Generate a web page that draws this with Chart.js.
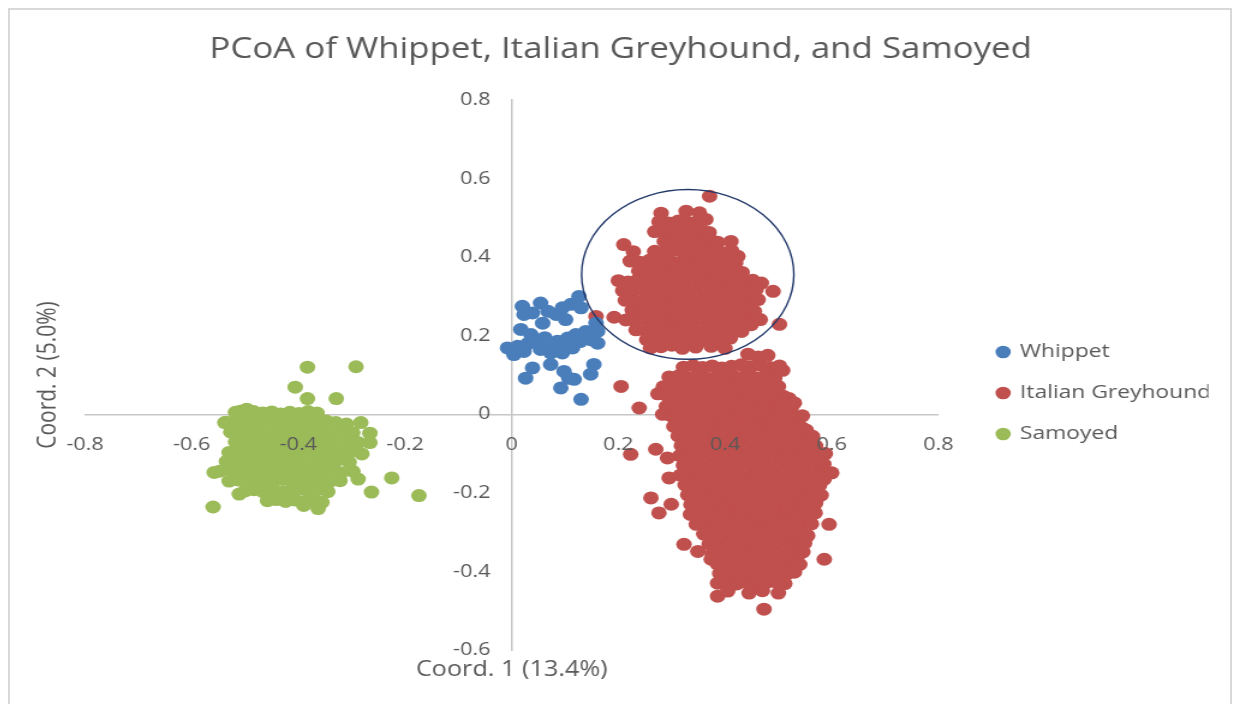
<!DOCTYPE html>
<html>
<head>
<meta charset="utf-8">
<script src="https://cdn.jsdelivr.net/npm/chart.js@4.4.1/dist/chart.umd.min.js"></script>
<style>
  html, body { margin:0; padding:0; background:#fff; overflow:hidden; }
  #frame { position:absolute; left:8px; top:8px; width:1220px; height:700px; border:2px solid #d9d9d9; overflow:hidden; }
  /* the source figure is stretched sideways, so the whole chart is too */
  #stretch { width:1016.67px; height:700px; transform:scaleX(1.2); transform-origin:0 0; }
</style>
</head>
<body>
<div id="frame"><div id="stretch"><canvas id="pcoa"></canvas></div></div>
<script>
// PCoA scatter: Whippet / Italian Greyhound / Samoyed

const TITLE = 'PCoA of Whippet, Italian Greyhound, and Samoyed';
const xTitle = 'Coord. 1 (13.4%)';
const yTitle = 'Coord. 2 (5.0%)';
const xRange = [-0.8, 0.8];
const yRange = [-0.6, 0.8];
const tickStep = 0.2;
const yLabelGap = 0.04;   // y tick labels sit a little left of the x = 0 axis line
// hand-drawn ellipse around the upper greyhound group: [cx, cy, rx, ry]
const ringShape = [0.33, 0.356, 0.199, 0.216];

const whippetPts = [
  [0.020,0.275],[0.054,0.283],[0.039,0.258],[0.023,0.254],[0.095,0.271],[0.111,0.280],[0.126,0.300],[0.130,0.271],
  [0.083,0.254],[0.101,0.241],[0.058,0.232],[0.017,0.216],[0.036,0.203],[-0.008,0.169],[0.011,0.173],[0.004,0.152],
  [0.023,0.160],[0.054,0.165],[0.070,0.173],[0.086,0.186],[0.105,0.194],[0.120,0.203],[0.139,0.211],[0.161,0.211],
  [0.161,0.181],[0.148,0.190],[0.095,0.156],[0.073,0.156],[0.114,0.169],[0.073,0.127],[0.039,0.118],[0.026,0.092],
  [0.098,0.109],[0.107,0.092],[0.117,0.089],[0.154,0.127],[0.148,0.102],[0.092,0.067],[0.130,0.038],[0.158,0.232],
  [0.045,0.185],[0.128,0.185],[0.068,0.262],[0.030,0.180],[0.062,0.195],[0.092,0.172],[0.135,0.196]
];

const greyhoundPts = [
  // upper group, inside the ring
  [0.371,0.555],
  [0.280,0.512],[0.327,0.517],[0.352,0.513],
  [0.276,0.490],[0.294,0.487],[0.312,0.492],[0.330,0.488],[0.348,0.491],[0.364,0.496],
  [0.268,0.465],[0.286,0.468],[0.304,0.463],[0.322,0.467],[0.340,0.462],[0.358,0.466],[0.370,0.463],
  [0.210,0.432],[0.286,0.440],[0.304,0.443],[0.322,0.438],[0.340,0.442],[0.358,0.437],[0.376,0.441],[0.386,0.438],[0.411,0.440],
  [0.228,0.414],[0.268,0.415],[0.286,0.412],[0.304,0.417],[0.322,0.413],[0.340,0.416],[0.358,0.411],[0.376,0.415],[0.394,0.412],[0.412,0.417],[0.424,0.402],
  [0.222,0.390],[0.240,0.387],[0.258,0.392],[0.276,0.388],[0.294,0.391],[0.312,0.386],[0.330,0.390],[0.348,0.387],[0.366,0.392],[0.384,0.388],[0.402,0.391],[0.420,0.386],
  [0.238,0.365],[0.256,0.362],[0.274,0.367],[0.292,0.363],[0.310,0.366],[0.328,0.361],[0.346,0.365],[0.364,0.362],[0.382,0.367],[0.400,0.363],[0.418,0.366],[0.432,0.361],
  [0.200,0.340],[0.218,0.337],[0.236,0.342],[0.254,0.338],[0.272,0.341],[0.290,0.336],[0.308,0.340],[0.326,0.337],[0.344,0.342],[0.362,0.338],[0.380,0.341],[0.398,0.336],[0.416,0.340],[0.434,0.337],[0.452,0.341],[0.468,0.334],
  [0.208,0.315],[0.226,0.312],[0.244,0.317],[0.262,0.313],[0.280,0.316],[0.298,0.311],[0.316,0.315],[0.334,0.312],[0.352,0.317],[0.370,0.313],[0.388,0.316],[0.406,0.311],[0.424,0.315],[0.442,0.312],[0.458,0.317],[0.490,0.313],
  [0.213,0.290],[0.231,0.287],[0.249,0.292],[0.267,0.288],[0.285,0.291],[0.303,0.286],[0.321,0.290],[0.339,0.287],[0.357,0.292],[0.375,0.288],[0.393,0.291],[0.411,0.286],[0.429,0.290],[0.447,0.287],[0.462,0.292],
  [0.226,0.265],[0.244,0.262],[0.262,0.267],[0.280,0.263],[0.298,0.266],[0.316,0.261],[0.334,0.265],[0.352,0.262],[0.370,0.267],[0.388,0.263],[0.406,0.266],[0.424,0.261],[0.442,0.265],[0.455,0.262],
  [0.158,0.249],[0.192,0.247],
  [0.214,0.240],[0.232,0.237],[0.250,0.242],[0.268,0.238],[0.286,0.241],[0.304,0.236],[0.322,0.240],[0.340,0.237],[0.358,0.242],[0.376,0.238],[0.394,0.241],[0.412,0.236],[0.430,0.240],[0.448,0.237],[0.466,0.241],[0.502,0.229],
  [0.233,0.215],[0.251,0.212],[0.269,0.217],[0.287,0.213],[0.305,0.216],[0.323,0.211],[0.341,0.215],[0.359,0.212],[0.377,0.217],[0.395,0.213],[0.413,0.216],[0.431,0.211],[0.449,0.228],
  [0.253,0.190],[0.271,0.193],[0.289,0.188],[0.307,0.192],[0.325,0.187],[0.343,0.191],[0.361,0.188],[0.379,0.193],[0.397,0.189],[0.410,0.194],
  [0.260,0.169],[0.280,0.172],[0.300,0.176],[0.320,0.168],[0.345,0.171],[0.374,0.173],[0.400,0.168],
  // lower group
  [0.443,0.153],[0.462,0.146],[0.480,0.150],
  [0.322,0.120],[0.340,0.124],[0.358,0.119],[0.376,0.123],[0.394,0.118],[0.412,0.122],[0.430,0.126],[0.448,0.121],[0.466,0.125],[0.484,0.119],[0.502,0.123],
  [0.295,0.095],[0.313,0.098],[0.331,0.093],[0.349,0.097],[0.367,0.092],[0.385,0.096],[0.403,0.099],[0.421,0.094],[0.439,0.098],[0.457,0.093],[0.475,0.097],[0.493,0.092],[0.508,0.112],
  [0.205,0.071],[0.284,0.070],[0.302,0.073],[0.320,0.068],[0.338,0.072],[0.356,0.067],[0.374,0.071],[0.392,0.074],[0.410,0.069],[0.428,0.073],[0.446,0.068],[0.464,0.072],[0.482,0.067],[0.500,0.071],
  [0.274,0.052],[0.293,0.045],[0.311,0.048],[0.329,0.043],[0.347,0.047],[0.365,0.042],[0.383,0.046],[0.401,0.049],[0.419,0.044],[0.437,0.048],[0.455,0.043],[0.473,0.047],[0.491,0.042],[0.509,0.046],[0.520,0.040],
  [0.239,0.016],[0.290,0.020],[0.308,0.023],[0.326,0.018],[0.344,0.022],[0.362,0.017],[0.380,0.021],[0.398,0.024],[0.416,0.019],[0.434,0.023],[0.452,0.018],[0.470,0.022],[0.488,0.017],[0.506,0.021],[0.524,0.016],[0.530,0.029],
  [0.283,0.000],[0.300,-0.005],[0.318,-0.002],[0.336,-0.007],[0.354,-0.003],[0.372,-0.008],[0.390,-0.004],[0.408,-0.001],[0.426,-0.006],[0.444,-0.002],[0.462,-0.007],[0.480,-0.003],[0.498,-0.008],[0.516,-0.004],[0.534,-0.009],[0.545,-0.004],
  [0.304,-0.031],[0.310,-0.030],[0.328,-0.027],[0.346,-0.032],[0.364,-0.028],[0.382,-0.033],[0.400,-0.029],[0.418,-0.026],[0.436,-0.031],[0.454,-0.027],[0.472,-0.032],[0.490,-0.028],[0.508,-0.033],[0.526,-0.029],[0.544,-0.034],[0.552,-0.040],
  [0.312,-0.055],[0.330,-0.052],[0.348,-0.057],[0.366,-0.053],[0.384,-0.058],[0.402,-0.054],[0.420,-0.051],[0.438,-0.056],[0.456,-0.052],[0.474,-0.057],[0.492,-0.053],[0.510,-0.058],[0.528,-0.054],[0.546,-0.051],[0.564,-0.056],
  [0.318,-0.080],[0.336,-0.077],[0.354,-0.082],[0.372,-0.078],[0.390,-0.083],[0.408,-0.079],[0.426,-0.076],[0.444,-0.081],[0.462,-0.077],[0.480,-0.082],[0.498,-0.078],[0.516,-0.083],[0.534,-0.079],[0.552,-0.076],[0.570,-0.081],
  [0.223,-0.102],[0.270,-0.089],[0.292,-0.111],
  [0.315,-0.105],[0.333,-0.102],[0.351,-0.107],[0.369,-0.103],[0.387,-0.108],[0.405,-0.104],[0.423,-0.101],[0.441,-0.106],[0.459,-0.102],[0.477,-0.107],[0.495,-0.103],[0.513,-0.108],[0.531,-0.104],[0.549,-0.101],[0.567,-0.106],[0.588,-0.100],
  [0.322,-0.130],[0.340,-0.127],[0.358,-0.132],[0.376,-0.128],[0.394,-0.133],[0.412,-0.129],[0.430,-0.126],[0.448,-0.131],[0.466,-0.127],[0.484,-0.132],[0.502,-0.128],[0.520,-0.133],[0.538,-0.129],[0.556,-0.126],[0.574,-0.131],[0.585,-0.127],
  [0.295,-0.162],
  [0.316,-0.155],[0.334,-0.152],[0.352,-0.157],[0.370,-0.153],[0.388,-0.158],[0.406,-0.154],[0.424,-0.151],[0.442,-0.156],[0.460,-0.152],[0.478,-0.157],[0.496,-0.153],[0.514,-0.158],[0.532,-0.154],[0.550,-0.151],[0.568,-0.156],[0.586,-0.152],[0.600,-0.149],
  [0.325,-0.180],[0.343,-0.177],[0.361,-0.182],[0.379,-0.178],[0.397,-0.183],[0.415,-0.179],[0.433,-0.176],[0.451,-0.181],[0.469,-0.177],[0.487,-0.182],[0.505,-0.178],[0.523,-0.183],[0.541,-0.179],[0.559,-0.176],[0.577,-0.181],[0.586,-0.165],
  [0.261,-0.213],
  [0.330,-0.205],[0.348,-0.202],[0.366,-0.207],[0.384,-0.203],[0.402,-0.208],[0.420,-0.204],[0.438,-0.201],[0.456,-0.206],[0.474,-0.202],[0.492,-0.207],[0.510,-0.203],[0.528,-0.208],[0.546,-0.204],[0.564,-0.201],[0.580,-0.206],
  [0.299,-0.229],
  [0.336,-0.230],[0.354,-0.227],[0.372,-0.232],[0.390,-0.228],[0.408,-0.233],[0.426,-0.229],[0.444,-0.226],[0.462,-0.231],[0.480,-0.227],[0.498,-0.232],[0.516,-0.228],[0.534,-0.233],[0.552,-0.229],[0.570,-0.226],
  [0.276,-0.251],
  [0.335,-0.255],[0.353,-0.252],[0.371,-0.257],[0.389,-0.253],[0.407,-0.258],[0.425,-0.254],[0.443,-0.251],[0.461,-0.256],[0.479,-0.252],[0.497,-0.257],[0.515,-0.253],[0.533,-0.258],[0.551,-0.254],[0.569,-0.251],
  [0.346,-0.280],[0.364,-0.277],[0.382,-0.282],[0.400,-0.278],[0.418,-0.283],[0.436,-0.279],[0.454,-0.276],[0.472,-0.281],[0.490,-0.277],[0.508,-0.282],[0.526,-0.278],[0.544,-0.283],[0.562,-0.279],[0.595,-0.280],
  [0.360,-0.305],[0.378,-0.302],[0.396,-0.307],[0.414,-0.303],[0.432,-0.308],[0.450,-0.304],[0.468,-0.301],[0.486,-0.306],[0.504,-0.302],[0.522,-0.307],[0.540,-0.303],[0.555,-0.309],
  [0.323,-0.331],
  [0.370,-0.330],[0.388,-0.327],[0.406,-0.332],[0.424,-0.328],[0.442,-0.333],[0.460,-0.329],[0.478,-0.326],[0.496,-0.331],[0.514,-0.327],[0.532,-0.332],[0.549,-0.328],
  [0.349,-0.349],
  [0.376,-0.355],[0.394,-0.352],[0.412,-0.357],[0.430,-0.353],[0.448,-0.358],[0.466,-0.354],[0.484,-0.351],[0.502,-0.356],[0.520,-0.352],[0.538,-0.357],[0.546,-0.350],
  [0.374,-0.369],
  [0.385,-0.380],[0.403,-0.377],[0.421,-0.382],[0.439,-0.378],[0.457,-0.383],[0.475,-0.379],[0.493,-0.376],[0.511,-0.381],[0.529,-0.377],[0.540,-0.382],[0.586,-0.369],
  [0.390,-0.405],[0.408,-0.402],[0.426,-0.407],[0.444,-0.403],[0.462,-0.408],[0.480,-0.404],[0.498,-0.401],[0.516,-0.406],[0.530,-0.402],
  [0.386,-0.430],[0.404,-0.427],[0.422,-0.432],[0.440,-0.428],[0.458,-0.433],[0.476,-0.429],[0.494,-0.426],[0.512,-0.431],
  [0.386,-0.463],[0.405,-0.450],[0.445,-0.455],[0.470,-0.449],[0.500,-0.455],
  [0.473,-0.496]
];

const samoyedPts = [
  // strays
  [-0.383,0.120],[-0.292,0.121],[-0.406,0.069],[-0.383,0.040],[-0.329,0.040],[-0.283,-0.021],[-0.266,-0.048],[-0.266,-0.072],
  [-0.225,-0.162],[-0.174,-0.207],[-0.263,-0.198],[-0.560,-0.236],[-0.558,-0.148],[-0.530,-0.097],[-0.538,-0.021],[-0.509,0.008],
  [-0.497,0.013],[-0.511,-0.203],[-0.363,-0.240],[-0.450,-0.215],[-0.390,-0.232],[-0.288,-0.165],[-0.281,-0.101],
  // core
  [-0.518,0.005],[-0.501,0.002],[-0.484,0.007],[-0.467,0.003],[-0.450,0.006],[-0.433,0.001],[-0.416,0.005],[-0.399,0.002],[-0.382,0.007],[-0.365,0.003],
  [-0.535,-0.020],[-0.518,-0.023],[-0.501,-0.018],[-0.484,-0.022],[-0.467,-0.017],[-0.450,-0.021],[-0.433,-0.024],[-0.416,-0.019],[-0.399,-0.023],[-0.382,-0.018],[-0.365,-0.022],[-0.348,-0.017],[-0.330,-0.021],[-0.310,-0.025],
  [-0.527,-0.045],[-0.510,-0.042],[-0.493,-0.047],[-0.476,-0.043],[-0.459,-0.048],[-0.442,-0.044],[-0.425,-0.041],[-0.408,-0.046],[-0.391,-0.042],[-0.374,-0.047],[-0.357,-0.043],[-0.340,-0.048],[-0.320,-0.044],[-0.298,-0.047],
  [-0.518,-0.070],[-0.501,-0.067],[-0.484,-0.072],[-0.467,-0.068],[-0.450,-0.073],[-0.433,-0.069],[-0.416,-0.066],[-0.399,-0.071],[-0.382,-0.067],[-0.365,-0.072],[-0.348,-0.068],[-0.331,-0.073],[-0.310,-0.069],[-0.288,-0.072],
  [-0.510,-0.095],[-0.493,-0.092],[-0.476,-0.097],[-0.459,-0.093],[-0.442,-0.098],[-0.425,-0.094],[-0.408,-0.091],[-0.391,-0.096],[-0.374,-0.092],[-0.357,-0.097],[-0.340,-0.093],[-0.320,-0.098],[-0.300,-0.094],
  [-0.535,-0.120],[-0.518,-0.117],[-0.501,-0.122],[-0.484,-0.118],[-0.467,-0.123],[-0.450,-0.119],[-0.433,-0.116],[-0.416,-0.121],[-0.399,-0.117],[-0.382,-0.122],[-0.365,-0.118],[-0.348,-0.123],[-0.330,-0.119],[-0.305,-0.122],
  [-0.548,-0.145],[-0.527,-0.142],[-0.510,-0.147],[-0.493,-0.143],[-0.476,-0.148],[-0.459,-0.144],[-0.442,-0.141],[-0.425,-0.146],[-0.408,-0.142],[-0.391,-0.147],[-0.374,-0.143],[-0.357,-0.148],[-0.340,-0.144],[-0.320,-0.149],[-0.298,-0.145],
  [-0.530,-0.170],[-0.513,-0.167],[-0.496,-0.172],[-0.479,-0.168],[-0.462,-0.173],[-0.445,-0.169],[-0.428,-0.166],[-0.411,-0.171],[-0.394,-0.167],[-0.377,-0.172],[-0.360,-0.168],[-0.343,-0.173],[-0.322,-0.169],
  [-0.500,-0.195],[-0.483,-0.192],[-0.466,-0.197],[-0.449,-0.193],[-0.432,-0.198],[-0.415,-0.194],[-0.398,-0.191],[-0.381,-0.196],[-0.364,-0.192],[-0.345,-0.197],
  [-0.458,-0.220],[-0.441,-0.217],[-0.424,-0.222],[-0.407,-0.218],[-0.390,-0.223],[-0.372,-0.219],[-0.356,-0.224]
];

const INK = '#595959';
const AXIS_LINE = '#c6c6c6';
const seriesColors = { whippet:'#4a7ebb', greyhound:'#c0504d', samoyed:'#9bbb59' };

Chart.defaults.font.family = "'Open Sans', sans-serif";
Chart.defaults.color = INK;

const toXY = (pts) => pts.map(p => ({ x: p[0], y: p[1] }));
const tickFmt = (v) => String(Math.round(v * 10) / 10);

// ellipse is drawn over the dots, like the hand-added shape in the source
const ringPlugin = {
  id: 'ring',
  afterDatasetsDraw(chart) {
    const { ctx, scales: { x, y } } = chart;
    const [cx, cy, rx, ry] = ringShape;
    const px = x.getPixelForValue(cx), py = y.getPixelForValue(cy);
    const prx = x.getPixelForValue(cx + rx) - px;
    const pry = py - y.getPixelForValue(cy + ry);
    ctx.save();
    ctx.beginPath();
    ctx.ellipse(px, py, prx, pry, 0, 0, Math.PI * 2);
    ctx.strokeStyle = '#243a6b';
    ctx.lineWidth = 1.4;
    ctx.stroke();
    ctx.restore();
  }
};

// axes that only carry a title (or just take up room)
const hiddenAxis = (axis, position, title, pad, size) => ({
  type: 'linear', axis, position, display: true,
  min: axis === 'x' ? xRange[0] : yRange[0], max: axis === 'x' ? xRange[1] : yRange[1],
  grid: { display: false, drawTicks: false }, border: { display: false }, ticks: { display: false },
  title: { display: true, text: title, color: INK, font: { size: size }, padding: pad }
});

const dot = (label, pts, color) => ({
  label, data: toXY(pts),
  backgroundColor: color, borderWidth: 0,
  pointRadius: 6.5, pointHoverRadius: 6.5, pointStyle: 'circle'
});

new Chart(document.getElementById('pcoa'), {
  type: 'scatter',
  data: {
    datasets: [
      dot('Whippet', whippetPts, seriesColors.whippet),
      dot('Italian Greyhound', greyhoundPts, seriesColors.greyhound),
      dot('Samoyed', samoyedPts, seriesColors.samoyed)
    ]
  },
  options: {
    animation: false, responsive: true, maintainAspectRatio: false, events: [],
    layout: { padding: { left: 19.1, right: 19.1, top: 0, bottom: 27.4 } },
    plugins: {
      title: { display: true, text: TITLE, color: INK, font: { size: 29, weight: 'normal' }, padding: { top: 22.6, bottom: 32.6 } },
      legend: {
        // box kept a bit narrower than its text so the title stays centred on the frame
        position: 'right', fullSize: false, maxWidth: 197.3,
        title: { display: true, text: '', font: { size: 12 }, padding: { top: 21.6, bottom: 0 } },
        labels: { usePointStyle: true, pointStyle: 'circle', boxWidth: 9, boxHeight: 9, padding: 22, color: INK, font: { size: 19 } }
      },
      tooltip: { enabled: false }
    },
    scales: {
      x: {
        type: 'linear', position: { y: 0 }, min: xRange[0], max: xRange[1],
        grid: { display: false, drawTicks: false }, border: { color: AXIS_LINE, width: 1.5 },
        ticks: { stepSize: tickStep, autoSkip: false, maxRotation: 0, padding: 20, z: 1, color: INK, font: { size: 18 }, callback: tickFmt }
      },
      // axis line at x = 0
      y: {
        type: 'linear', position: { x: 0 }, min: yRange[0], max: yRange[1],
        grid: { display: false, drawTicks: false }, border: { color: AXIS_LINE, width: 1.5 },
        ticks: { display: false, stepSize: tickStep }
      },
      // its labels, set off to the left of the line
      yLabels: {
        type: 'linear', axis: 'y', position: { x: -yLabelGap }, min: yRange[0], max: yRange[1],
        grid: { display: false, drawTicks: false }, border: { display: false },
        ticks: { stepSize: tickStep, autoSkip: false, z: 1, color: INK, font: { size: 18 }, callback: tickFmt }
      },
      xName: hiddenAxis('x', 'bottom', xTitle, { top: 7.4, bottom: 0 }, 21),
      yName: hiddenAxis('y', 'left', yTitle, { top: 0, bottom: 18.2 }, 21),
      yGap: hiddenAxis('y', 'right', '', { top: 0, bottom: 15.4 }, 10)
    }
  },
  plugins: [ringPlugin]
});
</script>
</body>
</html>
